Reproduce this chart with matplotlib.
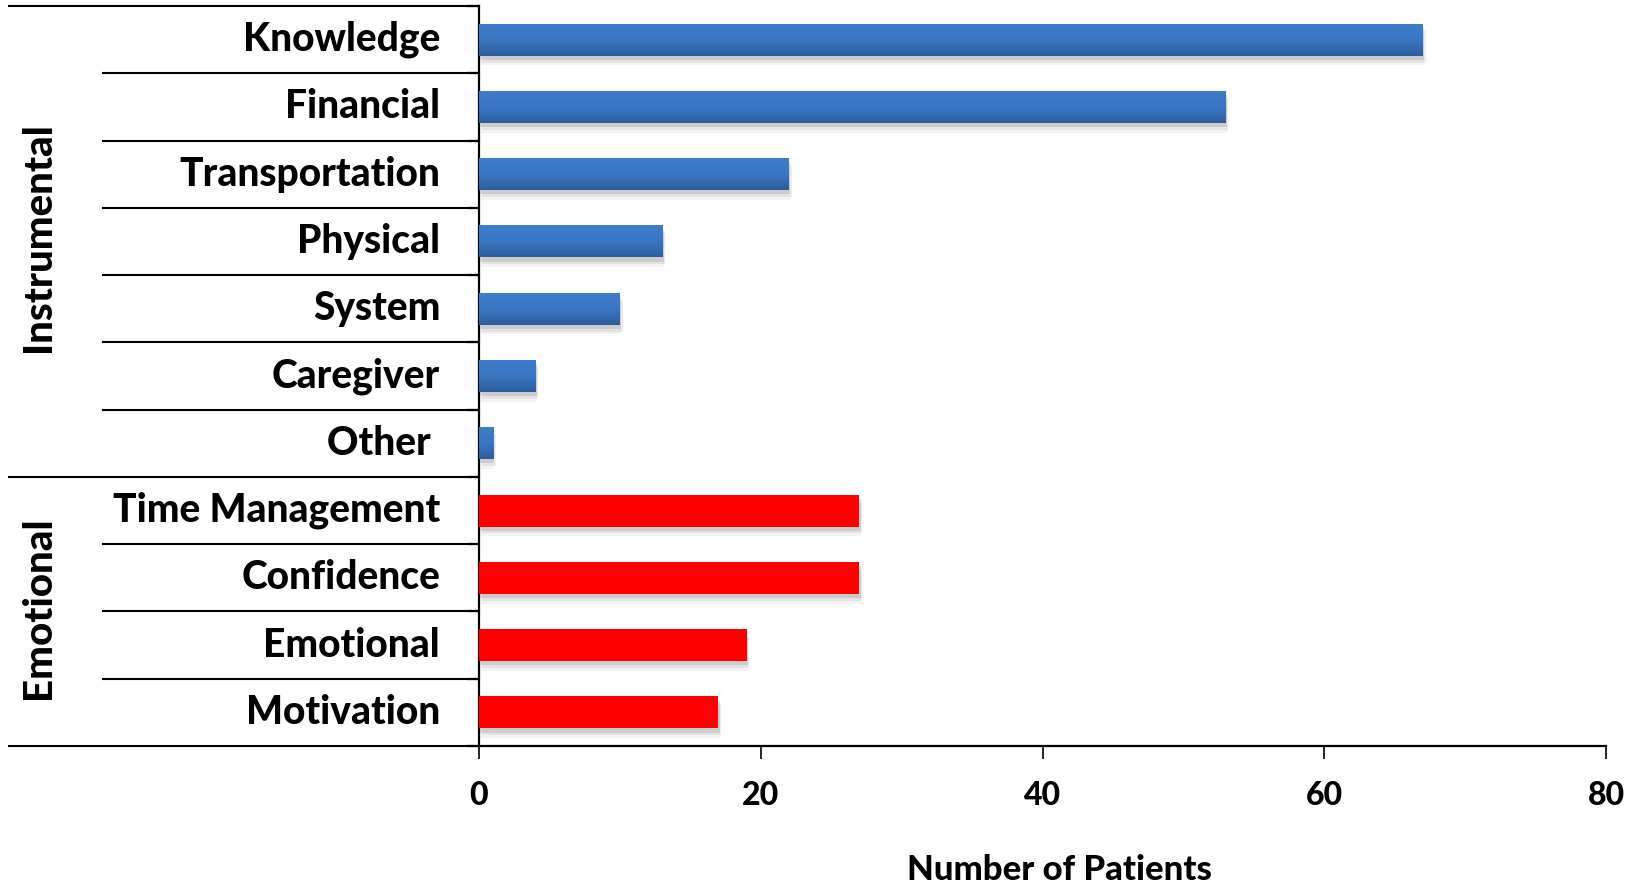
import numpy as np
import matplotlib
matplotlib.use("Agg")
import matplotlib.pyplot as plt
import matplotlib.patheffects as pe
from matplotlib.colors import LinearSegmentedColormap
import matplotlib.transforms as mtransforms

# ---- data ----
categories = ["Knowledge", "Financial", "Transportation", "Physical", "System",
              "Caregiver", "Other ", "Time Management", "Confidence",
              "Emotional", "Motivation"]
values = [67, 53, 22, 13, 10, 4, 1, 27, 27, 19, 17]
groups = ["Instrumental"] * 7 + ["Emotional"] * 4
group_names = ["Instrumental", "Emotional"]
xticks = [0, 20, 40, 60, 80]
xlabel = "Number of Patients"

plt.rcParams['font.family'] = ['Lato', 'DejaVu Sans']
WT = 900

W, H, DPI = 1635, 886, 100
fig = plt.figure(figsize=(W / DPI, H / DPI), dpi=DPI)
L, R, T, B = 479, 1606, 6, 746
ax = fig.add_axes([L / W, 1 - B / H, (R - L) / W, (B - T) / H])

n = len(categories)
y = np.arange(n)
blue_cmap = LinearSegmentedColormap.from_list("bl", ["#3D7DCB", "#3A76C3", "#2E5D9D"])
shadow = [pe.SimplePatchShadow(offset=(1, -7), shadow_rgbFace="#a8a8a8", alpha=0.12),
          pe.SimplePatchShadow(offset=(2, -5), shadow_rgbFace="#989898", alpha=0.18),
          pe.SimplePatchShadow(offset=(1, -3), shadow_rgbFace="#888888", alpha=0.25),
          pe.Normal()]

colors = ["#3A78C6" if g == "Instrumental" else "#FF0000" for g in groups]
bars = ax.barh(y, values, height=0.475, color=colors, edgecolor="none", zorder=3)
grad = np.linspace(0, 1, 64).reshape(-1, 1)
for b, g in zip(bars, groups):
    b.set_path_effects(shadow)
    if g == "Instrumental":
        im = ax.imshow(grad, cmap=blue_cmap, aspect="auto", zorder=4,
                       extent=[b.get_x(), b.get_x() + b.get_width(),
                               b.get_y() + b.get_height(), b.get_y()],
                       interpolation="bicubic")
        im.set_clip_path(b)

ax.set_xlim(0, 80)
ax.set_ylim(n - 0.5, -0.5)

# spines
for s in ["top", "right"]:
    ax.spines[s].set_visible(False)
ax.spines["left"].set_linewidth(1.6)
ax.spines["bottom"].set_linewidth(1.6)

# x ticks
ax.set_xticks(xticks)
ax.set_xticklabels([str(t) for t in xticks], fontsize=23, fontweight=WT)
ax.tick_params(axis="x", direction="out", length=9, width=1.2, pad=16)

# y ticks: boundaries as major ticks, labels as minor
ax.set_yticks(np.arange(-0.5, n, 1.0))
ax.set_yticklabels([])
ax.tick_params(axis="y", which="major", direction="out", length=9, width=1.6)
ax.set_yticks(y, minor=True)
ax.set_yticklabels(categories, minor=True, fontsize=28, fontweight=WT)
ax.tick_params(axis="y", which="minor", length=0, pad=28)
for lbl in ax.get_yticklabels(minor=True):
    lbl.set_verticalalignment("center")

# separator lines
trans = mtransforms.blended_transform_factory(ax.transAxes, ax.transData)
x_inner = (103 - L) / (R - L)
x_outer = (9 - L) / (R - L)
group_bounds = [-0.5]
for i in range(1, n):
    if groups[i] != groups[i - 1]:
        group_bounds.append(i - 0.5)
group_bounds.append(n - 0.5)
for b in np.arange(0.5, n - 1, 1.0):
    if b not in group_bounds:
        ax.plot([x_inner, 0], [b, b], color="black", lw=1.5, transform=trans, clip_on=False)
for b in group_bounds:
    ax.plot([x_outer, 0], [b, b], color="black", lw=1.5, transform=trans, clip_on=False)

# group labels
x_grp = (38 - L) / (R - L)
up = mtransforms.ScaledTranslation(0, 4 / DPI, fig.dpi_scale_trans)
for gname in group_names:
    idx = [i for i, g in enumerate(groups) if g == gname]
    yc = (idx[0] + idx[-1]) / 2
    ax.text(x_grp, yc, gname, transform=trans + up, rotation=90, ha="center", va="center",
            fontsize=29, fontweight=WT)

fig.text(1059 / W, 1 - 870 / H, xlabel, ha="center", va="center",
         fontsize=25, fontweight=WT)

fig.savefig("out.png", dpi=DPI)
